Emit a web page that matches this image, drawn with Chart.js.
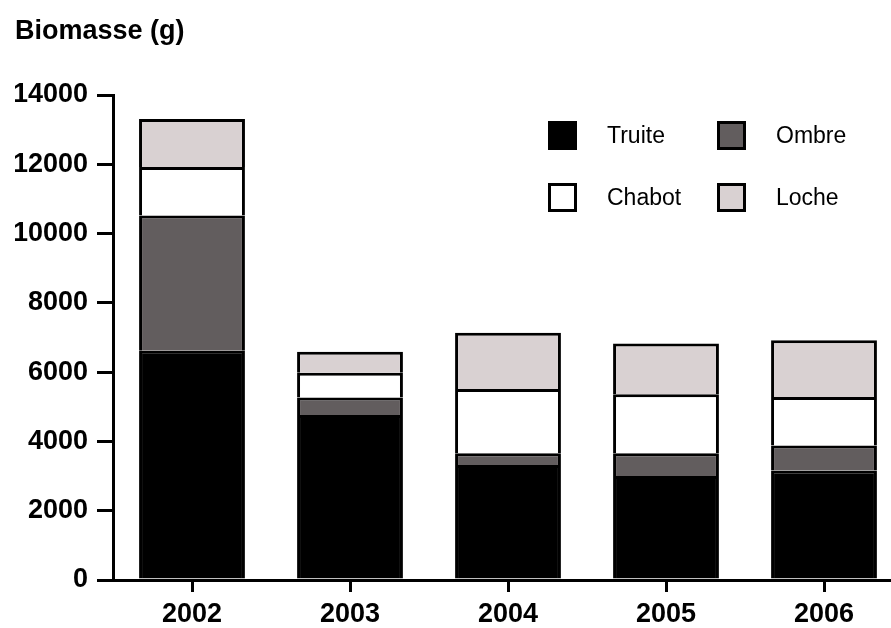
<!DOCTYPE html>
<html>
<head>
<meta charset="utf-8">
<script src="https://cdn.jsdelivr.net/npm/chart.js@4/dist/chart.umd.min.js"></script>
<style>
  html, body { margin: 0; padding: 0; background: #fff; overflow: hidden; width: 891px; height: 628px; }
  #wrap { position: absolute; left: 0; top: 0; width: 903px; height: 628px; }
</style>
</head>
<body>
<div id="wrap"><canvas id="c"></canvas></div>
<script>
const categories = ['2002', '2003', '2004', '2005', '2006'];
const truite = [6620, 4760, 3320, 3000, 3160];
const ombre  = [3900, 510, 340, 660, 720];
const chabot = [1400, 710, 1850, 1700, 1400];
const loche  = [1390, 610, 1630, 1470, 1640];
const seriesNames = ['Truite', 'Ombre', 'Chabot', 'Loche'];
const yTicks = [0, 2000, 4000, 6000, 8000, 10000, 12000, 14000];
const titleText = 'Biomasse (g)';

const colors = ['#000000', '#625d5e', '#ffffff', '#d9d1d2'];
const seriesData = [truite, ombre, chabot, loche];
const FONT = '"Liberation Sans", Arial, sans-serif';

const legendPlugin = {
  id: 'gridLegend',
  afterDraw(chart) {
    const ctx = chart.ctx;
    const pos = [[548, 121], [717, 121], [548, 183], [717, 183]];
    ctx.save();
    chart.data.datasets.forEach((ds, i) => {
      const [x, y] = pos[i];
      ctx.fillStyle = ds.backgroundColor;
      ctx.fillRect(x, y, 29, 29);
      ctx.strokeStyle = '#000';
      ctx.lineWidth = 3;
      ctx.strokeRect(x + 1.5, y + 1.5, 26, 26);
      ctx.fillStyle = '#000';
      ctx.font = '23px ' + FONT;
      ctx.textBaseline = 'middle';
      ctx.textAlign = 'left';
      ctx.fillText(ds.label, x + 59, y + 16);
    });
    ctx.restore();
  }
};

new Chart(document.getElementById('c'), {
  type: 'bar',
  data: {
    labels: categories,
    datasets: seriesNames.map((n, i) => ({
      label: n,
      data: seriesData[i],
      backgroundColor: colors[i],
      borderColor: '#000',
      borderWidth: 3,
      borderSkipped: 'start',
      categoryPercentage: 1,
      barPercentage: 0.67
    }))
  },
  options: {
    responsive: true,
    maintainAspectRatio: false,
    animation: false,
    layout: { padding: { left: 15, right: 0, top: 0, bottom: 0 } },
    plugins: {
      legend: { display: false },
      tooltip: { enabled: false },
      title: {
        display: true,
        text: titleText,
        align: 'start',
        color: '#000',
        font: { family: FONT, size: 27, weight: 'bold', lineHeight: 1.2 },
        padding: { top: 15, bottom: 47.6 }
      }
    },
    scales: {
      x: {
        stacked: true,
        grid: { display: true, drawOnChartArea: false, drawTicks: true, tickLength: 12, color: '#000', lineWidth: 3, offset: false },
        border: { display: true, color: '#000', width: 3 },
        ticks: { color: '#000', padding: 6, font: { family: FONT, size: 27, weight: 'bold' } },
        afterFit(s) { s.height = 48; }
      },
      y: {
        stacked: true,
        min: 0,
        max: 14000,
        afterBuildTicks(s) { s.ticks = yTicks.map(v => ({ value: v })); },
        grid: { display: true, drawOnChartArea: false, drawTicks: true, tickLength: 16, color: '#000', lineWidth: 3 },
        border: { display: true, color: '#000', width: 3 },
        ticks: { color: '#000', padding: 9, font: { family: FONT, size: 27, weight: 'bold' }, callback: v => String(v) },
        afterFit(s) { s.width = 98; }
      }
    }
  },
  plugins: [legendPlugin]
});
</script>
</body>
</html>
